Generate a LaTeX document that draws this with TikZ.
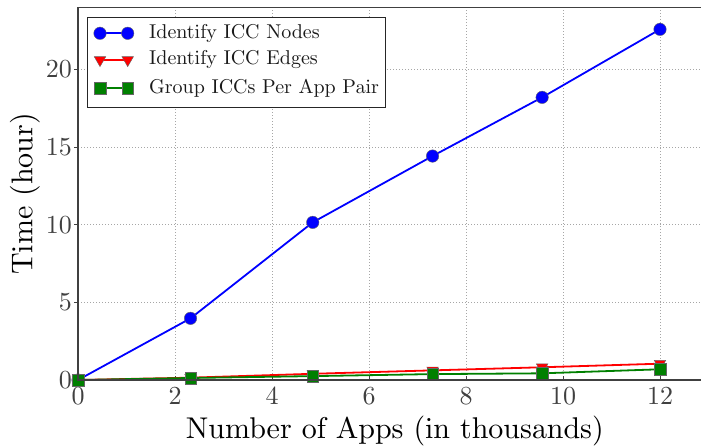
\documentclass[tikz,border=0pt]{standalone}
\usetikzlibrary{shapes.geometric}
\definecolor{mblue}{RGB}{0,0,255}
\definecolor{mred}{RGB}{255,0,0}
\definecolor{mgreen}{RGB}{0,128,0}
\font\tickfont=cmr10 at 26pt
\font\axfont=cmr10 at 30pt
\font\legfont=cmr10 at 20pt
\begin{document}
\begin{tikzpicture}[x=48.5pt,y=15.53pt,
  gridline/.style={gray!70, line width=0.6pt, dash pattern=on 1pt off 2pt},
  spine/.style={black!75, line width=1.3pt},
  ticklab/.style={font=\tickfont, text=black!75, inner sep=0pt},
  axlab/.style={font=\axfont, inner sep=0pt},
  leglab/.style={font=\legfont, text=black!90, anchor=west, inner sep=0pt},
  bline/.style={mblue, line width=1.8pt},
  rline/.style={mred, line width=1.8pt},
  gline/.style={mgreen, line width=1.8pt},
  bmark/.style={circle, fill=mblue, draw=black!60, line width=0.4pt, minimum size=12.5pt, inner sep=0pt},
  rmark/.style={isosceles triangle, isosceles triangle apex angle=60, shape border rotate=-90, fill=mred, draw=black!60, line width=0.4pt, minimum size=10pt, inner sep=0pt},
  gmark/.style={rectangle, fill=mgreen, draw=black!60, line width=0.4pt, minimum size=11.5pt, inner sep=0pt}
]
\clip (-78pt,-67pt) rectangle (623pt,380pt);
% grid
\foreach \x in {2,4,...,12} \draw[gridline] (\x,0) -- (\x,24);
\foreach \y in {5,10,15,20} \draw[gridline] (0,\y) -- (13,\y);
% ticks and labels
\foreach \x in {0,2,4,...,12} {
  \draw[black!75, line width=0.6pt] (\x,0) -- ++(0,4pt);
  \node[ticklab, anchor=north] (xt\x) at ([yshift=-8pt]\x,0) {\x};
}
\foreach \y in {0,5,10,15,20} {
  \draw[black!75, line width=0.6pt] (0,\y) -- ++(-4pt,0);
  \node[ticklab, anchor=east] (yt\y) at ([xshift=-6pt]0,\y) {\y};
}
% data coordinates
\coordinate (b0) at (0,0);
\coordinate (b1) at (2.32,3.97);
\coordinate (b2) at (4.84,10.15);
\coordinate (b3) at (7.31,14.42);
\coordinate (b4) at (9.57,18.2);
\coordinate (b5) at (12,22.58);
\coordinate (r0) at (0,0);
\coordinate (r1) at (2.32,0.15);
\coordinate (r2) at (4.84,0.4);
\coordinate (r3) at (7.31,0.62);
\coordinate (r4) at (9.57,0.82);
\coordinate (r5) at (12,1.05);
\coordinate (g0) at (0,0);
\coordinate (g1) at (2.32,0.13);
\coordinate (g2) at (4.84,0.25);
\coordinate (g3) at (7.31,0.38);
\coordinate (g4) at (9.57,0.43);
\coordinate (g5) at (12,0.69);
% blue series
\draw[bline] (b0) -- (b1) -- (b2) -- (b3) -- (b4) -- (b5);
\foreach \i in {0,...,5} \node[bmark] (bm\i) at (b\i) {};
% red series
\draw[rline] (r0) -- (r1) -- (r2) -- (r3) -- (r4) -- (r5);
\foreach \i in {0,...,5} \node[rmark] (rm\i) at (r\i) {};
% green series
\draw[gline] (g0) -- (g1) -- (g2) -- (g3) -- (g4) -- (g5);
\foreach \i in {0,...,5} \node[gmark] (gm\i) at (g\i) {};
% spines
\draw[spine] (13,0) -- (0,0) -- (0,24) -- (13,24);
% axis labels
\node[axlab] (xlab) at (317pt,-51pt) {Number of Apps (in thousands)};
\node[axlab, rotate=90] (ylab) at (-53pt,186pt) {Time (hour)};
% legend
\node[draw=black!85, fill=white, line width=1.1pt, minimum width=297.7pt, minimum height=89.4pt, anchor=north west, inner sep=0pt] (legbox) at (9.3pt,362.7pt) {};
\coordinate (l1a) at (22pt,346.7pt); \coordinate (l1b) at (49.7pt,346.7pt);
\coordinate (l2a) at (22pt,320pt); \coordinate (l2b) at (49.7pt,320pt);
\coordinate (l3a) at (22pt,291.7pt); \coordinate (l3b) at (49.7pt,291.7pt);
\draw[bline] (l1a) -- (l1b);
\node[bmark] (lb1) at (l1a) {}; \node[bmark] (lb2) at (l1b) {};
\draw[rline] (l2a) -- (l2b);
\node[rmark] (lr1) at (l2a) {}; \node[rmark] (lr2) at (l2b) {};
\draw[gline] (l3a) -- (l3b);
\node[gmark] (lg1) at (l3a) {}; \node[gmark] (lg2) at (l3b) {};
\node[leglab] (t1) at (71pt,346.7pt) {Identify ICC Nodes};
\node[leglab] (t2) at (71pt,320pt) {Identify ICC Edges};
\node[leglab] (t3) at (71pt,291.7pt) {Group ICCs Per App Pair};
\end{tikzpicture}
\end{document}
